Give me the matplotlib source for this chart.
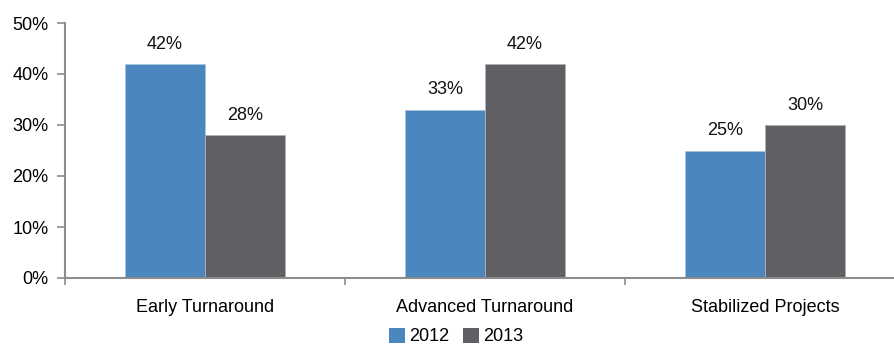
import matplotlib
matplotlib.use("Agg")
import matplotlib.pyplot as plt
import numpy as np
from matplotlib.patches import Patch

categories = ["Early Turnaround", "Advanced Turnaround", "Stabilized Projects"]
series = ["2012", "2013"]
vals_2012 = [42, 33, 25]
vals_2013 = [28, 42, 30]
yticks = [0, 10, 20, 30, 40, 50]

c2012 = "#4a87be"
c2013 = "#5f6064"
spine_c = "#8c8c8c"

plt.rcParams['font.family'] = ['Liberation Sans Narrow', 'Liberation Sans', 'DejaVu Sans']

fig = plt.figure(figsize=(8.94, 3.47), dpi=100)
# axes runs past the right edge of the figure, like the original
ax = fig.add_axes([65 / 894, 69 / 347, 840 / 894, 255 / 347])

x = np.arange(len(categories))
w = 80 / 280
b1 = ax.bar(x - w / 2, vals_2012, w, color=c2012, edgecolor="#a9c4de", linewidth=0.6)
b2 = ax.bar(x + w / 2, vals_2013, w, color=c2013, edgecolor="#b0b0b0", linewidth=0.6)

for bars, vals in ((b1, vals_2012), (b2, vals_2013)):
    for r, v in zip(bars, vals):
        ax.text(r.get_x() + r.get_width() / 2, v + 2.2, f"{v}%",
                ha="center", va="bottom", fontsize=13, color="#111111")

ax.set_xlim(-0.5, 2.5)
ax.set_ylim(0, 50)
ax.set_yticks(yticks)
ax.set_yticklabels([f"{t}%" for t in yticks])
ax.set_xticks(x)
ax.set_xticklabels(categories)
ax.set_xticks([-0.5, 0.5, 1.5, 2.5], minor=True)

for s in ("top", "right"):
    ax.spines[s].set_visible(False)
for s in ("left", "bottom"):
    ax.spines[s].set_color(spine_c)
    ax.spines[s].set_linewidth(1.5)

ax.tick_params(axis="y", length=6, width=1.2, color=spine_c, pad=6, labelsize=13)
ax.tick_params(axis="x", which="major", length=0, pad=15, labelsize=13)
ax.tick_params(axis="x", which="minor", length=5, width=1.2, color=spine_c)

handles = [Patch(facecolor=c2012), Patch(facecolor=c2013)]
fig.legend(handles, series, loc="center", bbox_to_anchor=(456 / 894, 10.5 / 347),
           ncol=2, frameon=False, fontsize=13, handlelength=0.9, handleheight=0.9,
           handletextpad=0.2, columnspacing=0.8, borderaxespad=0, borderpad=0)

fig.savefig("out.png", dpi=100)
